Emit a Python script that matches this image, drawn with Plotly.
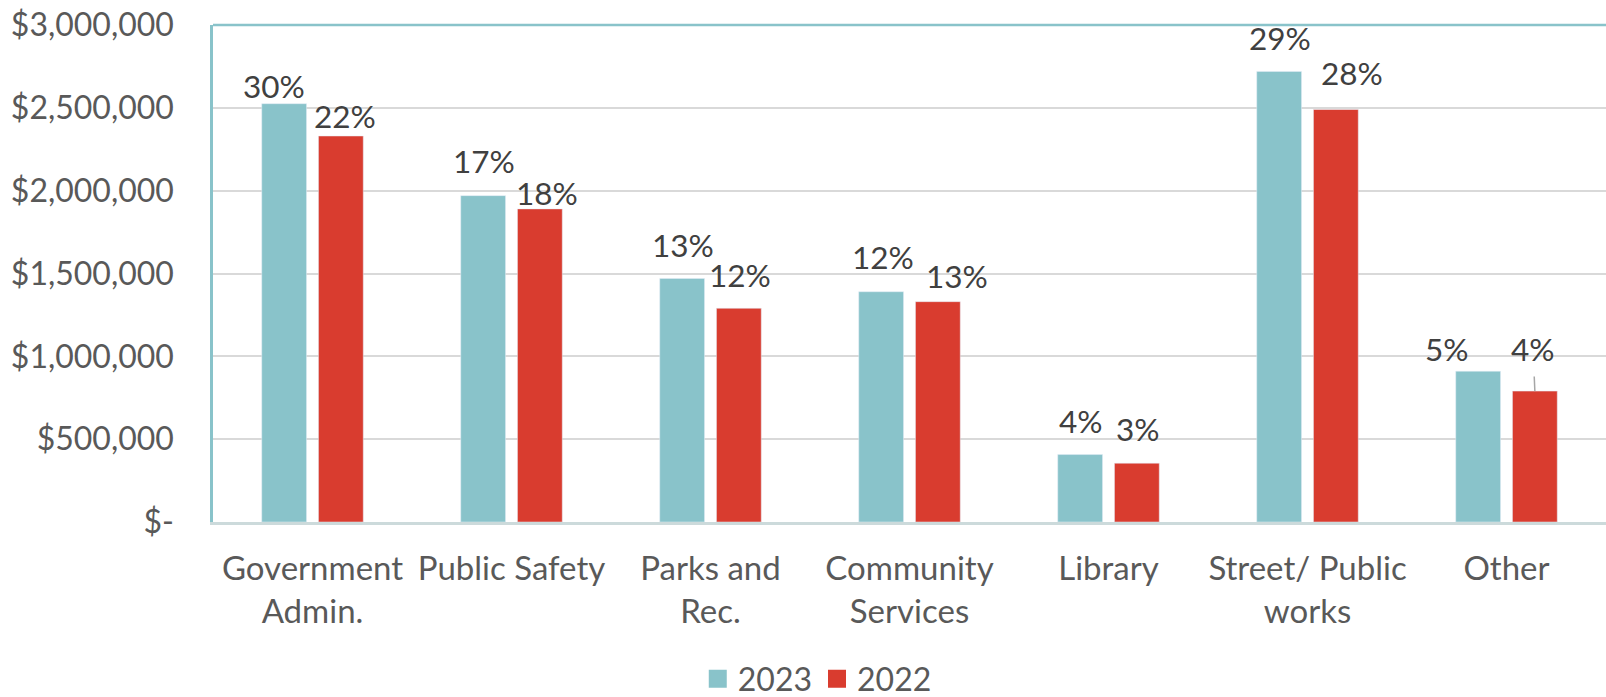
import plotly.graph_objects as go

# Expenditure by department, two fiscal years
categories = [
    "Government<br>Admin.",
    "Public Safety",
    "Parks and<br>Rec.",
    "Community<br>Services",
    "Library",
    "Street/ Public<br>works",
    "Other",
]
spend_2023 = [2525000, 1970000, 1470000, 1390000, 407000, 2720000, 910000]
spend_2022 = [2330000, 1890000, 1290000, 1330000, 355000, 2490000, 790000]
share_2023 = ["30%", "17%", "13%", "12%", "4%", "29%", "5%"]
share_2022 = ["22%", "18%", "12%", "13%", "3%", "28%", "4%"]

y_tickvals = [0, 500000, 1000000, 1500000, 2000000, 2500000, 3000000]
y_ticktext = ["$-", "$500,000", "$1,000,000", "$1,500,000", "$2,000,000", "$2,500,000", "$3,000,000"]

# Styling
COLOR_2023 = "#89C3CA"
COLOR_2022 = "#D93C2F"
FONT = "Lato"
BAR_GAP = 0.43
GROUP_GAP = 0.21
# label placement (pixels) relative to the top-centre of each bar
label_shift_2023 = [(-10.6, -17.7), (1.3, -34.5), (1.2, -33.7), (1.6, -34.3), (0.8, -33.7), (1.2, -33.8), (-30.7, -22.2)]
label_shift_2022 = [(3.8, -19.6), (7.6, -15.5), (1.5, -33.7), (18.9, -25.6), (1.3, -34.0), (16.3, -36.5), (-1.8, -42.2)]
leader_line_2022 = [False, False, False, False, False, False, True]

fig = go.Figure()
fig.add_trace(go.Bar(x=categories, y=spend_2023, name="2023", marker_color=COLOR_2023,
                     showlegend=False, legendgroup="2023"))
fig.add_trace(go.Bar(x=categories, y=spend_2022, name="2022", marker_color=COLOR_2022,
                     showlegend=False, legendgroup="2022"))

# legend entries with larger square swatches
for name, col in (("2023", COLOR_2023), ("2022", COLOR_2022)):
    fig.add_trace(go.Scatter(x=[None], y=[None], mode="markers", name=name, legendgroup=name,
                             marker=dict(symbol="square", size=16, color=col,
                                         line=dict(color=col, width=2))))

PLOT_W = 1606 - 213
cat_w = PLOT_W / len(categories)
slot = cat_w * (1 - BAR_GAP) / 2
annotations = []
for vals, texts, shifts, side, leaders in (
    (spend_2023, share_2023, label_shift_2023, -1, [False] * 7),
    (spend_2022, share_2022, label_shift_2022, 1, leader_line_2022),
):
    for cat, v, t, (dx, dy), lead in zip(categories, vals, texts, shifts, leaders):
        annotations.append(dict(
            x=cat, y=v, xref="x", yref="y", text=t,
            xshift=side * slot / 2, ax=dx, ay=dy,
            showarrow=True, arrowhead=0, arrowwidth=1.5,
            arrowcolor="#A6A6A6" if lead else "rgba(0,0,0,0)",
            startstandoff=7 if lead else 0,
            font=dict(family=FONT, size=31.5, color="#404040"),
        ))

fig.update_layout(
    width=1606, height=697,
    margin=dict(l=213, r=0, t=25, b=175),
    paper_bgcolor="white", plot_bgcolor="white",
    barmode="group", bargap=BAR_GAP, bargroupgap=GROUP_GAP,
    font=dict(family=FONT, size=30, color="#595959"),
    annotations=annotations,
    shapes=[dict(type="line", xref="paper", yref="paper", x0=0, x1=1, y0=1, y1=1,
                 line=dict(color=COLOR_2023, width=2.5), layer="above")],
    legend=dict(orientation="h", x=0.348, xanchor="left",
                yref="container", y=0.026, yanchor="middle",
                font=dict(family=FONT, size=32, color="#595959"),
                itemwidth=30, bgcolor="rgba(0,0,0,0)"),
)
fig.update_xaxes(
    showline=True, linecolor="#CCDADB", linewidth=2.5, automargin=False,
    showgrid=False, ticks="", tickfont=dict(family=FONT, size=33, color="#595959"),
    ticklabelstandoff=16,
)
fig.update_yaxes(
    range=[0, 3000000], tickmode="array", tickvals=y_tickvals, ticktext=y_ticktext,
    showline=True, linecolor=COLOR_2023, linewidth=2.5, automargin=False,
    showgrid=True, gridcolor="#D9D9D9", gridwidth=2, zeroline=False,
    ticks="", tickfont=dict(family=FONT, size=32, color="#595959"),
    ticklabelstandoff=30,
)

fig.write_html("out.html")
